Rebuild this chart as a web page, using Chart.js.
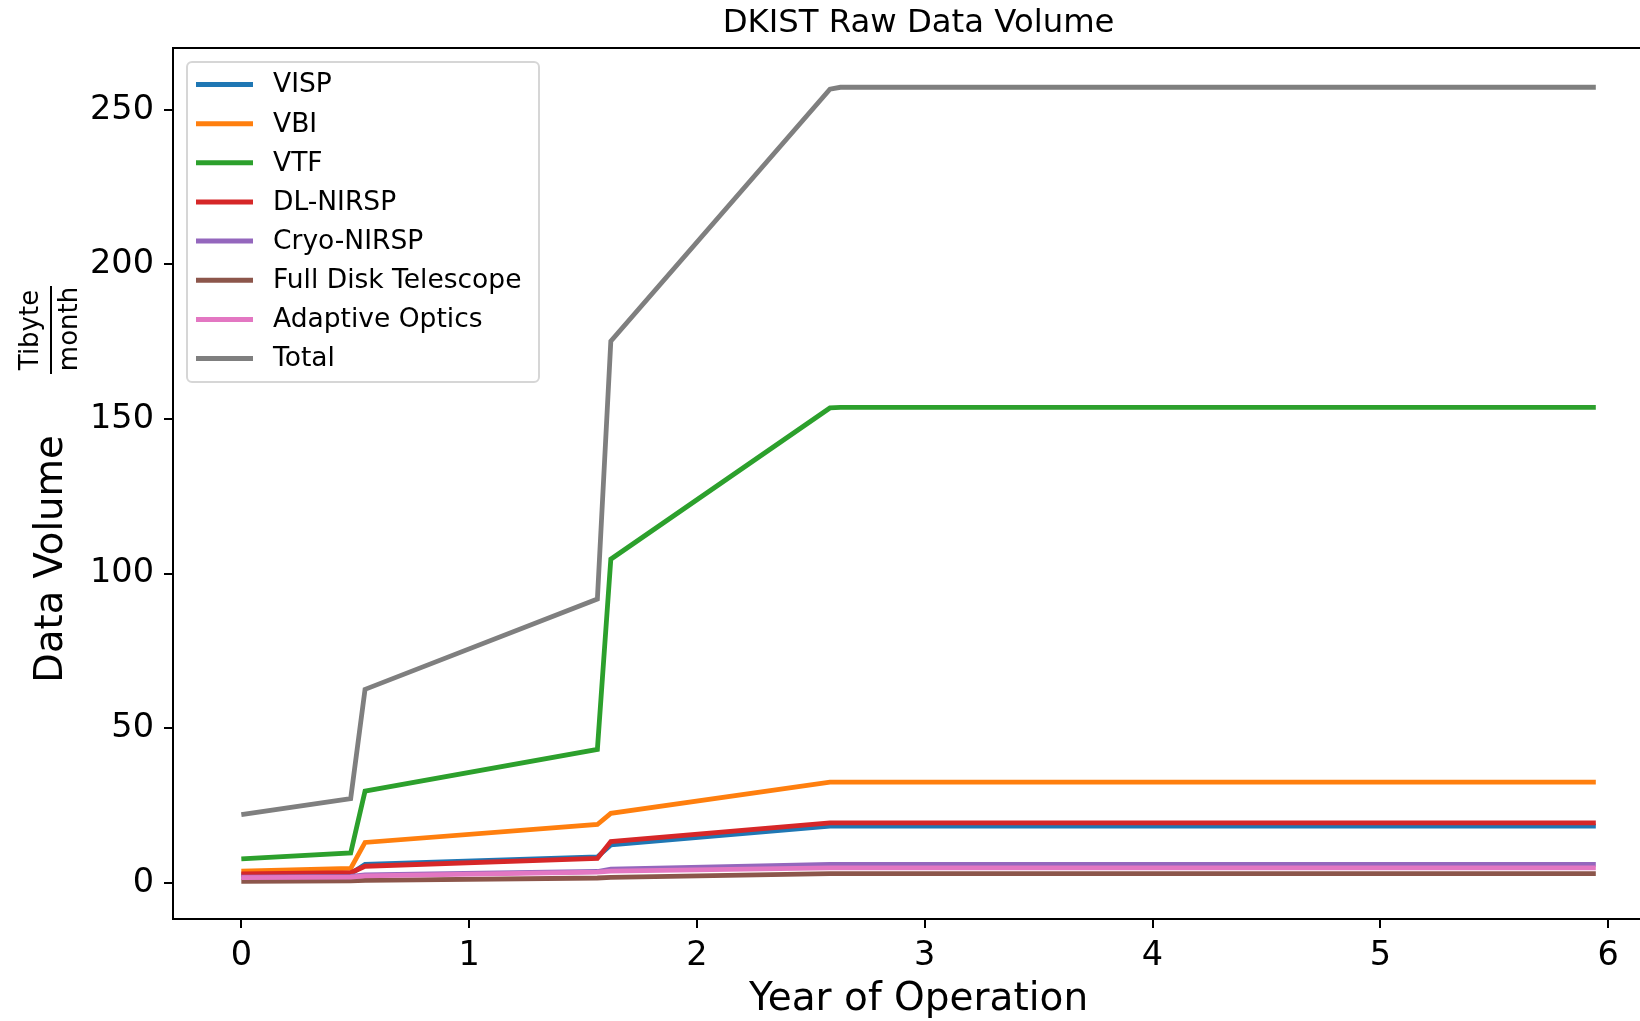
<!DOCTYPE html>
<html>
<head>
<meta charset="utf-8">
<script src="https://cdn.jsdelivr.net/npm/chart.js@4"></script>
<style>
  body { margin: 0; background: #fff; }
  canvas { display: block; }
</style>
</head>
<body>
<canvas id="myChart" width="1640" height="1021"></canvas>
<script>
// years of operation where the curves bend
let years = [0, 0.48, 0.543, 1.563, 1.622, 2.584, 2.63, 5.946];

// data volume per instrument (Tibyte / month)
let visp = [2.6, 3.0, 6.0, 8.4, 12.3, 18.4, 18.4, 18.4];
let vbi = [3.8, 4.7, 13.1, 18.9, 22.5, 32.6, 32.6, 32.6];
let vtf = [7.8, 9.7, 29.7, 43.2, 104.7, 153.6, 153.8, 153.8];
let dlNirsp = [2.9, 3.3, 5.4, 7.9, 13.4, 19.4, 19.4, 19.4];
let cryoNirsp = [1.9, 2.1, 2.6, 3.7, 4.5, 6.0, 6.0, 6.0];
let fullDisk = [0.5, 0.7, 0.8, 1.6, 1.8, 3.0, 3.0, 3.0];
let adaptiveOptics = [1.7, 1.9, 2.3, 3.5, 3.8, 4.9, 4.9, 4.9];
let total = [22.1, 27.3, 62.6, 91.8, 175.2, 256.7, 257.3, 257.3];

let seriesNames = ["VISP", "VBI", "VTF", "DL-NIRSP", "Cryo-NIRSP", "Full Disk Telescope", "Adaptive Optics", "Total"];
let seriesValues = [visp, vbi, vtf, dlNirsp, cryoNirsp, fullDisk, adaptiveOptics, total];
let seriesColors = ["#1f77b4", "#ff7f0e", "#2ca02c", "#d62728", "#9467bd", "#8c564b", "#e377c2", "#7f7f7f"];

let xTicks = [0, 1, 2, 3, 4, 5, 6];
let yTicks = [0, 50, 100, 150, 200, 250];

const FONT = "DejaVu Sans";

// axes span of the original figure (right part is cut off by the image edge)
let xFullMin = -0.297;
let xFullMax = 6.243;

let datasets = seriesValues.map((vals, i) => ({
  label: seriesNames[i],
  data: years.map((x, j) => ({ x: x, y: vals[j] })),
  borderColor: seriesColors[i],
  backgroundColor: seriesColors[i],
  borderWidth: 4.8,
  pointRadius: 0,
  tension: 0,
  fill: false,
  borderJoinStyle: "miter",
  order: seriesValues.length - i, // later series drawn on top, like matplotlib
}));

// title, axis labels, legend and top spine
const decor = {
  id: "decor",
  afterDraw(chart) {
    const ctx = chart.ctx;
    const area = chart.chartArea;
    const xs = chart.scales.x;
    const cx = (xs.getPixelForValue(xFullMin) + xs.getPixelForValue(xFullMax)) / 2;
    ctx.save();

    ctx.strokeStyle = "#000";
    ctx.lineWidth = 2;
    ctx.beginPath();
    ctx.moveTo(area.left - 1, area.top);
    ctx.lineTo(area.right, area.top);
    ctx.stroke();

    ctx.fillStyle = "#000";
    ctx.textAlign = "center";
    ctx.textBaseline = "alphabetic";
    ctx.font = "32.3px '" + FONT + "'";
    ctx.fillText("DKIST Raw Data Volume", cx, 32);

    ctx.font = "39px '" + FONT + "'";
    ctx.fillText("Year of Operation", cx, 1010);

    // y label: "Data Volume" + fraction Tibyte/month
    ctx.font = "38.5px '" + FONT + "'";
    ctx.save();
    ctx.translate(62, 559);
    ctx.rotate(-Math.PI / 2);
    ctx.fillText("Data Volume", 0, 0);
    ctx.restore();

    ctx.font = "26px '" + FONT + "'";
    ctx.save();
    ctx.translate(38, 330);
    ctx.rotate(-Math.PI / 2);
    ctx.fillText("Tibyte", 0, 0);
    ctx.restore();
    ctx.save();
    ctx.translate(77, 329);
    ctx.rotate(-Math.PI / 2);
    ctx.fillText("month", 0, 0);
    ctx.restore();
    ctx.fillRect(50, 286, 2, 88);

    // legend
    let bx = 187, by = 62, bw = 352, bh = 320;
    ctx.beginPath();
    ctx.roundRect(bx, by, bw, bh, 5);
    ctx.fillStyle = "rgba(255,255,255,0.8)";
    ctx.fill();
    ctx.strokeStyle = "#d6d6d6";
    ctx.lineWidth = 2;
    ctx.stroke();

    ctx.font = "26.5px '" + FONT + "'";
    ctx.textAlign = "left";
    ctx.textBaseline = "middle";
    for (let i = 0; i < seriesNames.length; i++) {
      let ry = 84.5 + i * 39.15;
      ctx.strokeStyle = seriesColors[i];
      ctx.lineWidth = 5;
      ctx.beginPath();
      ctx.moveTo(196, ry);
      ctx.lineTo(253, ry);
      ctx.stroke();
      ctx.fillStyle = "#000";
      ctx.fillText(seriesNames[i], 273, ry + 1);
    }
    ctx.restore();
  },
};

let myChart = new Chart("myChart", {
  type: "line",
  data: { datasets: datasets },
  plugins: [decor],
  options: {
    responsive: false,
    animation: false,
    devicePixelRatio: 1,
    layout: { padding: { top: 48, left: 0, right: 0, bottom: 0 } },
    plugins: {
      legend: { display: false },
      title: { display: false },
      tooltip: { enabled: false },
    },
    scales: {
      x: {
        type: "linear",
        min: -0.3,
        max: 6.14,
        afterBuildTicks: (s) => { s.ticks = xTicks.map((v) => ({ value: v })); },
        afterFit: (s) => { s.height = 102; },
        grid: { drawOnChartArea: false, drawTicks: true, tickLength: 9, color: "#000", lineWidth: 2 },
        border: { display: true, color: "#000", width: 2 },
        ticks: {
          color: "#000",
          font: { family: FONT, size: 33.5 },
          padding: 8,
          maxRotation: 0,
          autoSkip: false,
        },
      },
      y: {
        type: "linear",
        min: -11.66,
        max: 270,
        afterBuildTicks: (s) => { s.ticks = yTicks.map((v) => ({ value: v })); },
        afterFit: (s) => { s.width = 173; },
        grid: { drawOnChartArea: false, drawTicks: true, tickLength: 9, color: "#000", lineWidth: 2 },
        border: { display: true, color: "#000", width: 2 },
        ticks: {
          color: "#000",
          font: { family: FONT, size: 33.5 },
          padding: 10,
        },
      },
    },
  },
});
</script>
</body>
</html>
